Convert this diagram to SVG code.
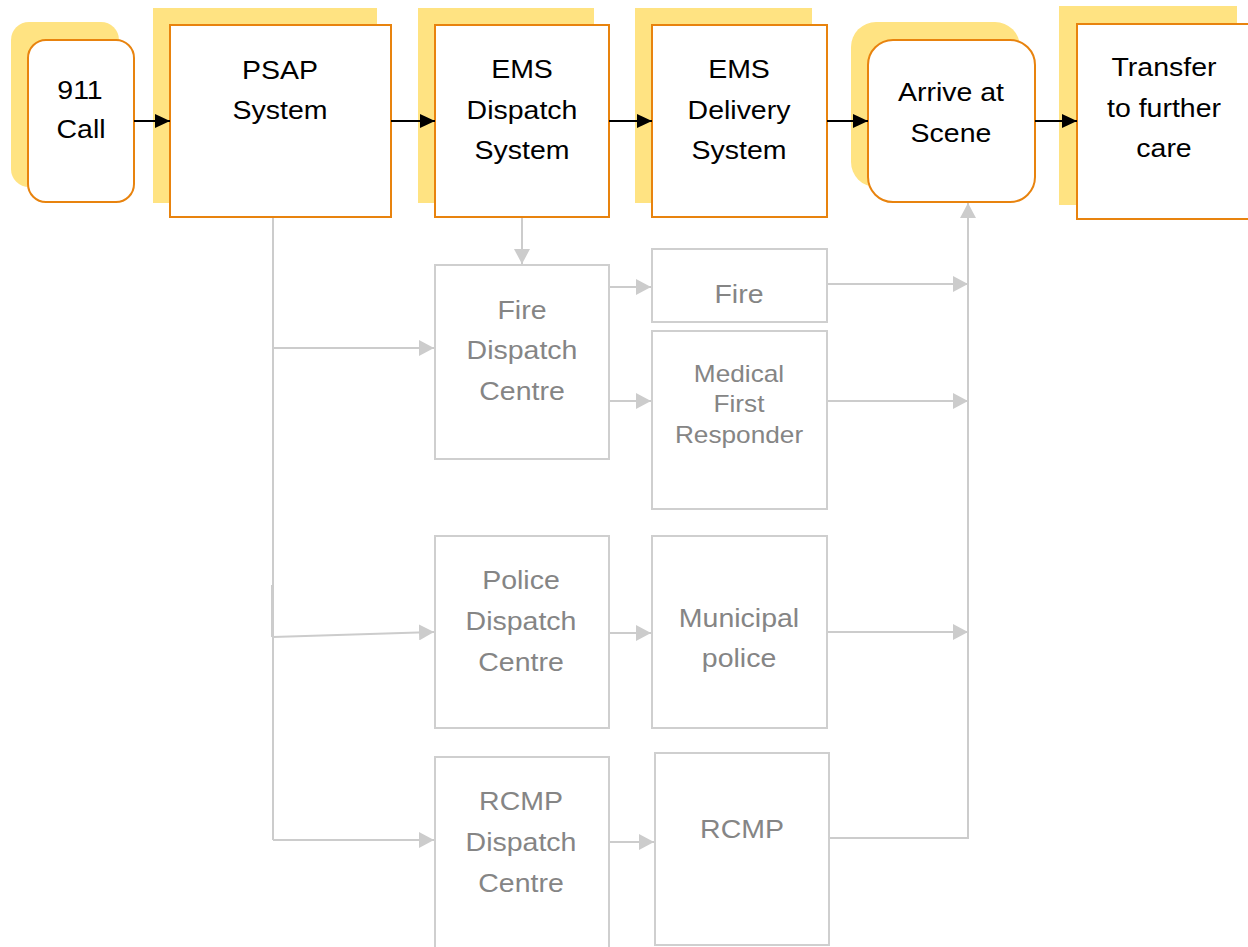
<svg xmlns="http://www.w3.org/2000/svg" width="1248" height="947" viewBox="0 0 1248 947">
  <style>
    .shadow { fill: #FFE382; stroke: none; }
    .main { fill: #FFFFFF; stroke: #E8830E; stroke-width: 2; }
    .sub { fill: #FFFFFF; stroke: #CFCFCF; stroke-width: 2; }
    .t { font-family: "Liberation Sans", Arial, sans-serif; font-size: 25px; text-anchor: middle; fill: #000000; }
    .tg { font-family: "Liberation Sans", Arial, sans-serif; font-size: 25px; text-anchor: middle; fill: #858585; }
    .ts { font-size: 23px; }
    .flow { fill: none; stroke: #000000; stroke-width: 2; }
    .link { fill: none; stroke: #CCCCCC; stroke-width: 2; }
  </style>
  <defs>
    <marker id="arrowBlack" viewBox="0 0 15 14" refX="15" refY="7" markerWidth="15" markerHeight="14" markerUnits="userSpaceOnUse" orient="auto">
      <path d="M0,0 L15,7 L0,14 z" fill="#000000"/>
    </marker>
    <marker id="arrowGray" viewBox="0 0 15 16" refX="15" refY="8" markerWidth="15" markerHeight="16" markerUnits="userSpaceOnUse" orient="auto">
      <path d="M0,0 L15,8 L0,16 z" fill="#CCCCCC"/>
    </marker>
  </defs>

  <!-- main chain nodes -->
  <g id="call911">
    <rect class="shadow" x="11" y="22" width="108" height="165" rx="18"/>
    <rect class="main" x="28" y="40" width="106" height="162" rx="18"/>
    <text class="t" x="0" y="99" transform="translate(80 0) scale(1.14 1)">911</text>
    <text class="t" x="0" y="138" transform="translate(81 0) scale(1.14 1)">Call</text>
  </g>

  <g id="psap">
    <rect class="shadow" x="153" y="8" width="224" height="195"/>
    <rect class="main" x="170" y="25" width="221" height="192"/>
    <text class="t" x="0" y="79" transform="translate(280 0) scale(1.14 1)">PSAP</text>
    <text class="t" x="0" y="119" transform="translate(280 0) scale(1.14 1)">System</text>
  </g>

  <g id="emsDispatch">
    <rect class="shadow" x="418" y="8" width="176" height="195"/>
    <rect class="main" x="435" y="25" width="174" height="192"/>
    <text class="t" x="0" y="78" transform="translate(522 0) scale(1.14 1)">EMS</text>
    <text class="t" x="0" y="119" transform="translate(522 0) scale(1.14 1)">Dispatch</text>
    <text class="t" x="0" y="159" transform="translate(522 0) scale(1.14 1)">System</text>
  </g>

  <g id="emsDelivery">
    <rect class="shadow" x="635" y="8" width="177" height="195"/>
    <rect class="main" x="652" y="25" width="175" height="192"/>
    <text class="t" x="0" y="78" transform="translate(739 0) scale(1.14 1)">EMS</text>
    <text class="t" x="0" y="119" transform="translate(739 0) scale(1.14 1)">Delivery</text>
    <text class="t" x="0" y="159" transform="translate(739 0) scale(1.14 1)">System</text>
  </g>

  <g id="arriveScene">
    <rect class="shadow" x="851" y="22" width="169" height="165" rx="25"/>
    <rect class="main" x="868" y="40" width="167" height="162" rx="25"/>
    <text class="t" x="0" y="101" transform="translate(951 0) scale(1.14 1)">Arrive at</text>
    <text class="t" x="0" y="142" transform="translate(951 0) scale(1.14 1)">Scene</text>
  </g>

  <g id="transferCare">
    <rect class="shadow" x="1059" y="6" width="178" height="199"/>
    <rect class="main" x="1077" y="24" width="200" height="195"/>
    <text class="t" x="0" y="76" transform="translate(1164 0) scale(1.14 1)">Transfer</text>
    <text class="t" x="0" y="117" transform="translate(1164 0) scale(1.14 1)">to further</text>
    <text class="t" x="0" y="157" transform="translate(1164 0) scale(1.14 1)">care</text>
  </g>

  <!-- dispatch centres -->
  <g id="fireDispatch">
    <rect class="sub" x="435" y="265" width="174" height="194"/>
    <text class="tg" x="0" y="319" transform="translate(522 0) scale(1.14 1)">Fire</text>
    <text class="tg" x="0" y="359" transform="translate(522 0) scale(1.14 1)">Dispatch</text>
    <text class="tg" x="0" y="400" transform="translate(522 0) scale(1.14 1)">Centre</text>
  </g>

  <g id="policeDispatch">
    <rect class="sub" x="435" y="536" width="174" height="192"/>
    <text class="tg" x="0" y="589" transform="translate(521 0) scale(1.14 1)">Police</text>
    <text class="tg" x="0" y="630" transform="translate(521 0) scale(1.14 1)">Dispatch</text>
    <text class="tg" x="0" y="671" transform="translate(521 0) scale(1.14 1)">Centre</text>
  </g>

  <g id="rcmpDispatch">
    <path class="sub" d="M435,947 V757 H609 V947"/>
    <text class="tg" x="0" y="810" transform="translate(521 0) scale(1.14 1)">RCMP</text>
    <text class="tg" x="0" y="851" transform="translate(521 0) scale(1.14 1)">Dispatch</text>
    <text class="tg" x="0" y="892" transform="translate(521 0) scale(1.14 1)">Centre</text>
  </g>

  <!-- responders -->
  <g id="fire">
    <rect class="sub" x="652" y="249" width="175" height="73"/>
    <text class="tg" x="0" y="303" transform="translate(739 0) scale(1.14 1)">Fire</text>
  </g>

  <g id="medicalFirstResponder">
    <rect class="sub" x="652" y="331" width="175" height="178"/>
    <text class="tg ts" x="0" y="382" transform="translate(739 0) scale(1.14 1)">Medical</text>
    <text class="tg ts" x="0" y="412" transform="translate(739 0) scale(1.14 1)">First</text>
    <text class="tg ts" x="0" y="443" transform="translate(739 0) scale(1.14 1)">Responder</text>
  </g>

  <g id="municipalPolice">
    <rect class="sub" x="652" y="536" width="175" height="192"/>
    <text class="tg" x="0" y="627" transform="translate(739 0) scale(1.14 1)">Municipal</text>
    <text class="tg" x="0" y="667" transform="translate(739 0) scale(1.14 1)">police</text>
  </g>

  <g id="rcmp">
    <rect class="sub" x="655" y="753" width="174" height="192"/>
    <text class="tg" x="0" y="838" transform="translate(742 0) scale(1.14 1)">RCMP</text>
  </g>

  <!-- connectors, painted over the node shadows -->
  <g id="connectors">
    <!-- main chain -->
    <line class="flow" x1="134" y1="121" x2="170" y2="121" marker-end="url(#arrowBlack)"/>
    <line class="flow" x1="391" y1="121" x2="435" y2="121" marker-end="url(#arrowBlack)"/>
    <line class="flow" x1="609" y1="121" x2="652" y2="121" marker-end="url(#arrowBlack)"/>
    <line class="flow" x1="827" y1="121" x2="868" y2="121" marker-end="url(#arrowBlack)"/>
    <line class="flow" x1="1035" y1="121" x2="1077" y2="121" marker-end="url(#arrowBlack)"/>

    <!-- PSAP trunk and branches -->
    <path class="link" d="M273,218 V840"/>
    <line class="link" x1="272" y1="585" x2="272" y2="637"/>
    <line class="link" x1="273" y1="348" x2="434" y2="348" marker-end="url(#arrowGray)"/>
    <line class="link" x1="273" y1="637" x2="434" y2="632" marker-end="url(#arrowGray)"/>
    <path class="link" d="M273,840 H434" marker-end="url(#arrowGray)"/>

    <!-- EMS dispatch to fire dispatch -->
    <line class="link" x1="522" y1="218" x2="522" y2="264" marker-end="url(#arrowGray)"/>

    <!-- dispatch centres to responders -->
    <line class="link" x1="610" y1="287" x2="651" y2="287" marker-end="url(#arrowGray)"/>
    <line class="link" x1="610" y1="401" x2="651" y2="401" marker-end="url(#arrowGray)"/>
    <line class="link" x1="610" y1="633" x2="651" y2="633" marker-end="url(#arrowGray)"/>
    <line class="link" x1="610" y1="842" x2="654" y2="842" marker-end="url(#arrowGray)"/>

    <!-- responders to scene -->
    <line class="link" x1="828" y1="284" x2="968" y2="284" marker-end="url(#arrowGray)"/>
    <line class="link" x1="828" y1="401" x2="968" y2="401" marker-end="url(#arrowGray)"/>
    <line class="link" x1="828" y1="632" x2="968" y2="632" marker-end="url(#arrowGray)"/>
    <path class="link" d="M830,838 H968 V203" marker-end="url(#arrowGray)"/>
  </g>
</svg>
